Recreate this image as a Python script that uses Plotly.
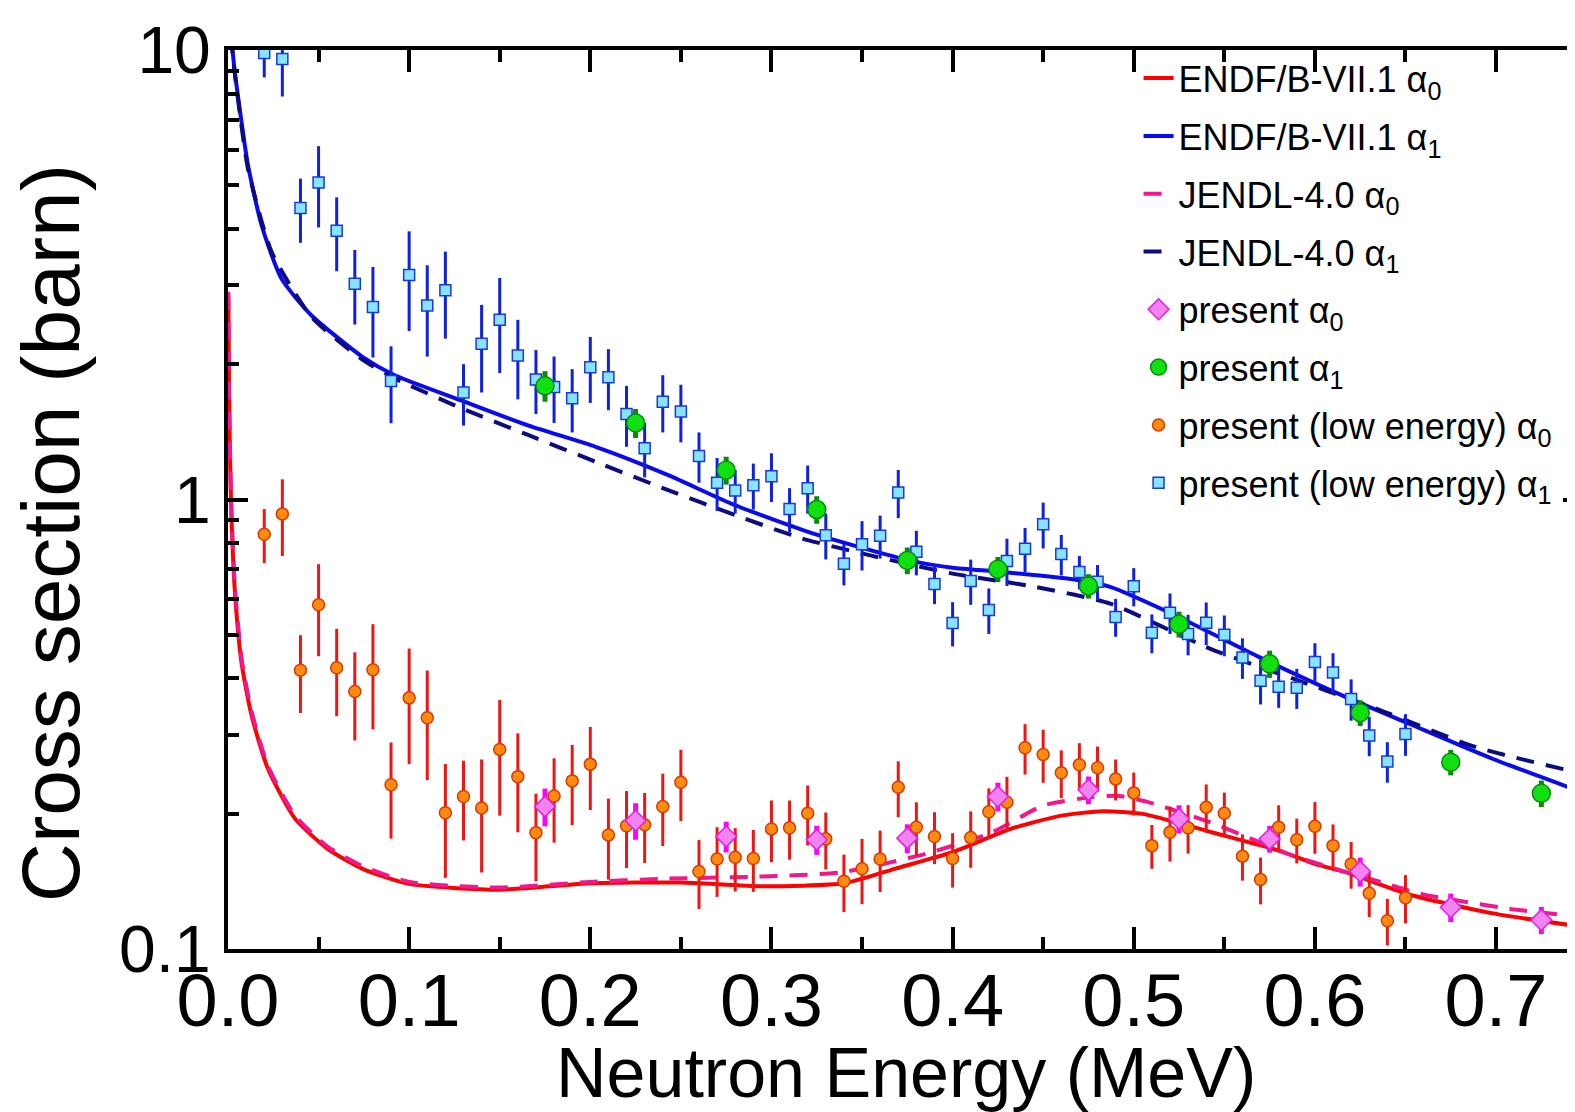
import plotly.graph_objects as go

# ---------------- data ----------------
# Evaluated curves
endf_a0_E = [0.0002, 0.0006, 0.0012, 0.0019, 0.0037, 0.0074, 0.013, 0.022, 0.037, 0.055, 0.074, 0.10, 0.15,
             0.20, 0.25, 0.295, 0.34, 0.368, 0.40, 0.432, 0.46, 0.483, 0.505, 0.543, 0.58, 0.60, 0.617,
             0.654, 0.70, 0.75]
endf_a0_y = [2.8, 1.7, 1.2, 0.92, 0.633, 0.435, 0.331, 0.252, 0.195, 0.167, 0.151, 0.1396, 0.1355,
             0.140, 0.1405, 0.1379, 0.140, 0.1508, 0.1642, 0.185, 0.198, 0.2026, 0.1998, 0.1819, 0.1656, 0.1546, 0.1482,
             0.1315, 0.1197, 0.1117]

jendl_a0_E = [0.0002, 0.0006, 0.0012, 0.0019, 0.0037, 0.0074, 0.013, 0.022, 0.037, 0.055, 0.074, 0.10, 0.15,
              0.20, 0.238, 0.293, 0.339, 0.385, 0.422, 0.45, 0.477, 0.492, 0.508, 0.542, 0.588, 0.604,
              0.643, 0.658, 0.708, 0.75]
jendl_a0_y = [2.9, 1.75, 1.24, 0.95, 0.65, 0.445, 0.338, 0.256, 0.198, 0.169, 0.153, 0.141, 0.137,
              0.141, 0.1432, 0.1449, 0.1482, 0.1628, 0.1819, 0.2085, 0.2177, 0.219, 0.2122, 0.1915, 0.1613, 0.1538,
              0.1384, 0.1327, 0.1228, 0.1176]

endf_a1_E = [0.0015, 0.0037, 0.0074, 0.011, 0.0185, 0.0295, 0.046, 0.074, 0.092, 0.129, 0.166, 0.203,
             0.243, 0.28, 0.326, 0.376, 0.40, 0.427, 0.47, 0.487, 0.523, 0.569, 0.615, 0.652, 0.698, 0.75]
endf_a1_y = [11.0, 8.97, 6.94, 5.55, 4.08, 3.1, 2.57, 2.08, 1.89, 1.66, 1.46, 1.31,
             1.133, 0.971, 0.833, 0.732, 0.705, 0.69, 0.661, 0.639, 0.552, 0.4465, 0.3665, 0.317, 0.265, 0.2214]

jendl_a1_E = [0.0015, 0.0037, 0.0074, 0.011, 0.024, 0.046, 0.074, 0.092, 0.129, 0.166, 0.203, 0.243,
              0.28, 0.317, 0.354, 0.40, 0.446, 0.487, 0.542, 0.588, 0.634, 0.689, 0.748]
jendl_a1_y = [10.8, 8.9, 6.8, 5.45, 3.56, 2.55, 2.05, 1.86, 1.595, 1.39, 1.213, 1.049,
              0.923, 0.819, 0.752, 0.684, 0.639, 0.5866, 0.4658, 0.3993, 0.3423, 0.2812, 0.2454]

# present (low energy) alpha0
le_a0_E = [0.02, 0.03, 0.04, 0.05, 0.06, 0.07, 0.08, 0.09, 0.10, 0.11, 0.12, 0.13, 0.14, 0.15, 0.16,
           0.17, 0.18, 0.19, 0.20, 0.21, 0.22, 0.23, 0.24, 0.25, 0.26, 0.27, 0.28, 0.29, 0.30, 0.31,
           0.32, 0.33, 0.34, 0.35, 0.36, 0.37, 0.38, 0.39, 0.40, 0.41, 0.42, 0.43, 0.44, 0.45, 0.46,
           0.47, 0.48, 0.49, 0.50, 0.51, 0.52, 0.53, 0.54, 0.55, 0.56, 0.57, 0.58, 0.59, 0.60, 0.61,
           0.62, 0.63, 0.64, 0.65]
le_a0_y = [0.837, 0.929, 0.417, 0.583, 0.4225, 0.374, 0.418, 0.232, 0.362, 0.327, 0.201, 0.2184, 0.206, 0.278, 0.2418,
           0.1815, 0.219, 0.2366, 0.2578, 0.1794, 0.188, 0.1889, 0.2075, 0.235, 0.1487, 0.1586, 0.160, 0.159, 0.185, 0.186,
           0.2005, 0.1758, 0.1415, 0.1508, 0.1586, 0.229, 0.1866, 0.178, 0.159, 0.177, 0.202, 0.212, 0.2804, 0.2709, 0.2466,
           0.257, 0.253, 0.239, 0.2225, 0.1698, 0.1819, 0.186, 0.2068, 0.2005, 0.1609, 0.1427, 0.1866, 0.175, 0.1876, 0.1698,
           0.1546, 0.133, 0.1156, 0.130]
le_a0_err = [0.115, 0.18, 0.082, 0.135, 0.093, 0.083, 0.11, 0.056, 0.104, 0.0895, 0.057, 0.044, 0.058, 0.08, 0.06,
             0.04, 0.0466, 0.048, 0.054, 0.0367, 0.0366, 0.0335, 0.038, 0.0425, 0.026, 0.028, 0.0257, 0.025, 0.029, 0.028,
             0.0306, 0.0254, 0.0207, 0.025, 0.0247, 0.0325, 0.0255, 0.0235, 0.022, 0.0254, 0.0257, 0.0296, 0.036, 0.0366, 0.03,
             0.03, 0.029, 0.025, 0.0244, 0.019, 0.0254, 0.023, 0.0255, 0.0223, 0.019, 0.017, 0.0222, 0.02, 0.0247, 0.0195,
             0.0184, 0.0153, 0.0137, 0.016]

# present (low energy) alpha1
le_a1_E = le_a0_E
le_a1_y = [9.85, 9.55, 4.45, 5.07, 3.96, 3.02, 2.68, 1.835, 3.16, 2.70, 2.92, 1.73, 2.22, 2.51, 2.09,
           1.85, 1.78, 1.68, 1.97, 1.87, 1.55, 1.30, 1.65, 1.57, 1.25, 1.09, 1.047, 1.076, 1.127, 0.953,
           1.06, 0.833, 0.72, 0.795, 0.83, 1.036, 0.765, 0.649, 0.531, 0.659, 0.568, 0.73, 0.777, 0.881, 0.756,
           0.69, 0.656, 0.548, 0.641, 0.505, 0.56, 0.502, 0.532, 0.50, 0.445, 0.395, 0.383, 0.381, 0.435, 0.412,
           0.36, 0.2985, 0.2614, 0.301]
le_a1_err = [1.16, 1.67, 0.726, 1.04, 0.74, 0.57, 0.61, 0.357, 0.79, 0.62, 0.64, 0.27, 0.49, 0.60, 0.42,
             0.30, 0.30, 0.27, 0.33, 0.29, 0.24, 0.18, 0.24, 0.23, 0.16, 0.147, 0.116, 0.126, 0.14, 0.107,
             0.13, 0.0975, 0.076, 0.10, 0.091, 0.127, 0.087, 0.064, 0.06, 0.076, 0.066, 0.088, 0.0875, 0.103, 0.078,
             0.059, 0.059, 0.053, 0.0625, 0.05, 0.058, 0.052, 0.058, 0.052, 0.046, 0.045, 0.039, 0.039, 0.044, 0.043,
             0.038, 0.03, 0.027, 0.032]

# present alpha0 / alpha1
pr_E = [0.175, 0.225, 0.275, 0.325, 0.375, 0.425, 0.475, 0.525, 0.575, 0.625, 0.675, 0.725]
pr_a0_y = [0.2075, 0.193, 0.178, 0.175, 0.1764, 0.2184, 0.226, 0.1948, 0.1758, 0.1487, 0.1238, 0.116]
pr_a0_err = [0.02, 0.018, 0.014, 0.013, 0.013, 0.016, 0.016, 0.014, 0.012, 0.011, 0.009, 0.008]
pr_a1_y = [1.79, 1.48, 1.162, 0.95, 0.732, 0.70, 0.642, 0.528, 0.431, 0.3355, 0.2604, 0.222]
pr_a1_err = [0.14, 0.11, 0.083, 0.067, 0.05, 0.045, 0.04, 0.035, 0.03, 0.022, 0.017, 0.015]

x_ticks = [0.0, 0.1, 0.2, 0.3, 0.4, 0.5, 0.6, 0.7]
x_ticktext = ["0.0", "0.1", "0.2", "0.3", "0.4", "0.5", "0.6", "0.7"]
y_ticks = [0.1, 1, 10]
y_ticktext = ["0.1", "1", "10"]
y_minor = [0.2, 0.3, 0.4, 0.5, 0.6, 0.7, 0.8, 0.9, 2, 3, 4, 5, 6, 7, 8, 9]

FONT = "Liberation Sans, Arial, sans-serif"

fig = go.Figure()

# curves
fig.add_trace(go.Scatter(x=endf_a0_E, y=endf_a0_y, mode="lines", name="ENDF/B-VII.1 α<sub>0</sub>",
                         line=dict(color="#ff0000", width=4, shape="spline", smoothing=0.6),
                         legendrank=1, legendgroup="g1"))
fig.add_trace(go.Scatter(x=endf_a1_E, y=endf_a1_y, mode="lines", name="ENDF/B-VII.1 α<sub>1</sub>",
                         line=dict(color="#0a0af0", width=4, shape="spline", smoothing=0.6),
                         legendrank=2, legendgroup="g2"))
fig.add_trace(go.Scatter(x=jendl_a0_E, y=jendl_a0_y, mode="lines", name="JENDL-4.0 α<sub>0</sub>",
                         line=dict(color="#f0188c", width=4, dash="18px,12px", shape="spline", smoothing=0.6),
                         legendrank=3, legendgroup="g3"))
fig.add_trace(go.Scatter(x=jendl_a1_E, y=jendl_a1_y, mode="lines", name="JENDL-4.0 α<sub>1</sub>",
                         line=dict(color="#0c0c80", width=4, dash="18px,12px", shape="spline", smoothing=0.6),
                         legendrank=4, legendgroup="g4"))

# low energy points
fig.add_trace(go.Scatter(x=le_a0_E, y=le_a0_y, mode="markers", name="present (low energy) α<sub>0</sub>",
                         marker=dict(symbol="circle", size=12, color="#ff8a10", line=dict(color="#d83a00", width=1.5)),
                         error_y=dict(type="data", array=le_a0_err, color="#ee1515", thickness=3, width=0),
                         legendrank=7, legendgroup="g7"))
fig.add_trace(go.Scatter(x=le_a1_E, y=le_a1_y, mode="markers", name="present (low energy) α<sub>1</sub>",
                         marker=dict(symbol="square", size=11, color="#86e4ff", line=dict(color="#1a3ad8", width=1.5)),
                         error_y=dict(type="data", array=le_a1_err, color="#1020e0", thickness=3, width=0),
                         legendrank=8, legendgroup="g8"))

# present points
fig.add_trace(go.Scatter(x=pr_E, y=pr_a0_y, mode="markers", name="present α<sub>0</sub>",
                         marker=dict(symbol="diamond", size=16, color="#f283f0", line=dict(color="#e020e0", width=1.5)),
                         error_y=dict(type="data", array=pr_a0_err, color="#ff00ff", thickness=5, width=0),
                         legendrank=5, legendgroup="g5"))
fig.add_trace(go.Scatter(x=pr_E, y=pr_a1_y, mode="markers", name="present α<sub>1</sub>",
                         marker=dict(symbol="circle", size=18, color="#10e010", line=dict(color="#0a8a0a", width=1.5)),
                         error_y=dict(type="data", array=pr_a1_err, color="#0a8a0a", thickness=5, width=0),
                         legendrank=6, legendgroup="g6"))

fig.update_layout(
    width=1575, height=1112,
    margin=dict(l=220, r=0, t=42, b=171),
    paper_bgcolor="white", plot_bgcolor="white",
    font=dict(family=FONT, color="black"),
    showlegend=True,
    legend=dict(x=0.672, y=1.002, xanchor="left", yanchor="top", bgcolor="rgba(0,0,0,0)",
                font=dict(family=FONT, size=36, color="black"), tracegroupgap=8,
                traceorder="grouped", itemsizing="trace"),
    annotations=[
        dict(text="Neutron Energy (MeV)", xref="paper", yref="paper", x=0.5, y=-0.138,
             xanchor="center", yanchor="middle", showarrow=False,
             font=dict(family=FONT, size=70, color="black")),
        dict(text="Cross section (barn)", xref="paper", yref="paper", x=-0.131, y=0.463,
             xanchor="center", yanchor="middle", textangle=-90, showarrow=False,
             font=dict(family=FONT, size=82, color="black")),
    ],
)

fig.update_xaxes(
    range=[0, 0.748], tickvals=x_ticks, ticktext=x_ticktext,
    ticks="inside", ticklen=22, tickwidth=4, tickcolor="black",
    showline=True, linewidth=4, linecolor="black", mirror="allticks",
    showgrid=False, zeroline=False, automargin=False,
    tickfont=dict(family=FONT, size=74, color="black"),
    ticklabelstandoff=-16,
    minor=dict(dtick=0.05, tick0=0, ticks="inside", ticklen=12, tickwidth=4, tickcolor="black", showgrid=False),
)
fig.update_yaxes(
    type="log", range=[-1, 1], tickvals=y_ticks, ticktext=y_ticktext,
    ticks="inside", ticklen=20, tickwidth=4, tickcolor="black",
    showline=True, linewidth=4, linecolor="black", mirror="allticks",
    showgrid=False, zeroline=False, automargin=False,
    tickfont=dict(family=FONT, size=66, color="black"),
    minor=dict(tickvals=y_minor, ticks="inside", ticklen=11, tickwidth=4, tickcolor="black", showgrid=False),
)

fig.write_html("out.html")
